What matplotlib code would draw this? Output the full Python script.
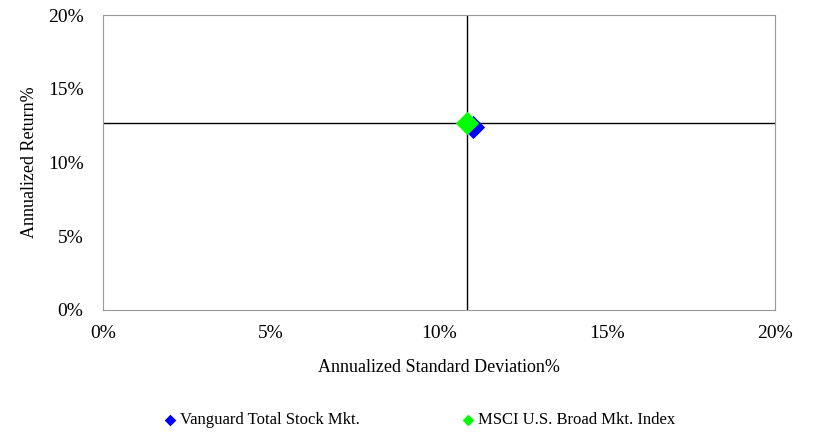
import matplotlib.pyplot as plt
from matplotlib.ticker import FuncFormatter

plt.rcParams['font.family'] = ['Liberation Serif', 'DejaVu Serif']

names = ["Vanguard Total Stock Mkt.", "MSCI U.S. Broad Mkt. Index"]
std_dev = [11.0, 10.82]
ret = [12.4, 12.65]
colors = ["#0000ff", "#00ff00"]
cross_x = 10.82
cross_y = 12.68

fig = plt.figure(figsize=(8.16, 4.32), dpi=100)
ax = fig.add_axes([103 / 816, 1 - 310 / 432, 672 / 816, 295 / 432])

ax.axvline(cross_x, color='black', lw=1, zorder=1)
ax.axhline(cross_y, color='black', lw=1, zorder=1)

for i in range(len(names)):
    ax.scatter(std_dev[i], ret[i], marker='D', s=140, color=colors[i],
               label=names[i], zorder=3, linewidths=0)

ax.set_xlim(0, 20)
ax.set_ylim(0, 20)
ax.set_xticks([0, 5, 10, 15, 20])
ax.set_yticks([0, 5, 10, 15, 20])
pct = FuncFormatter(lambda v, p: "%d%%" % v)
ax.xaxis.set_major_formatter(pct)
ax.yaxis.set_major_formatter(pct)
ax.tick_params(length=0, labelsize=14)
ax.tick_params(axis='x', pad=11)
ax.tick_params(axis='y', pad=14)
for s in ax.spines.values():
    s.set_color('#999999')

ax.set_xlabel("Annualized Standard Deviation%", fontsize=13, labelpad=12)
ax.set_ylabel("Annualized Return%", fontsize=13, labelpad=7)

leg = fig.legend(loc='center left', bbox_to_anchor=(163 / 816, 1 - 420 / 432), ncol=2,
                 frameon=False, fontsize=12, markerscale=0.5,
                 handlelength=0.8, handletextpad=0.2, columnspacing=6.1,
                 borderpad=0, borderaxespad=0)

fig.savefig("out.png", dpi=100)
